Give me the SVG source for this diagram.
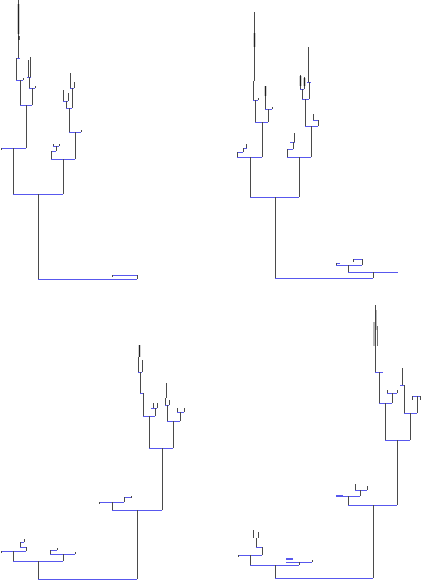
<svg xmlns="http://www.w3.org/2000/svg" width="422" height="581" viewBox="0 0 422 581">
<style>
.h{fill:none;stroke:#5858ee;stroke-width:1}
.v{fill:none;stroke:#4a4a4a;stroke-width:1}
.t{fill:none;stroke:#222;stroke-width:1.4}
.d{fill:none;stroke:#333;stroke-width:0.7}
</style>
<rect width="422" height="581" fill="#fff"/>
<g id="tree1">
<path class="h" d="M38 279.5H137M112 275.5H137M13 194.5H63M1 148.5H26M20 105.5H32M16 80.5H23M29 88.5H35M51 159.5H75M69 132.5H81M66 108.5H72M51 151.5H56M53 146.5H59M17 58.5H20M27 77.5H31M63 101.5H68M70 88.5H74"/>
<path class="v" d="M137.5 275V279M112.5 275V277M38.5 194V279M13.5 148V194M63.5 159V194M26.5 105V148M1.5 148V150M20.5 80V105M32.5 88V105M16.5 58V80M23.5 78V80M18.5 0V58M29.5 77V88M35.5 86V88M28.5 60V77M30.5 57V77M51.5 151V159M56.5 146V151M53.5 144V146M59.5 144V146M75.5 132V159M69.5 108V132M81.5 130V132M66.5 101V108M72.5 88V108M63.5 90V101M68.5 93V101M70.5 73V88M74.5 82V88"/>
<path class="t" d="M18.5 4V34M19 36V40"/>
</g>
<g id="tree2">
<path class="h" d="M275 278.5H373M348 272.5H398M336 265.5H362M353 259.5H362M336 263.5H340M250 197.5H299M237 157.5H262M237 152.5H243M243 148.5H247M255 122.5H268M253 100.5H258M265 109.5H272M287 157.5H311M287 149.5H293M290 142.5H295M305 126.5H318M302 99.5H309M300 89.5H304M307 82.5H311M313 120.5H318"/>
<path class="v" d="M373.5 272V278M348.5 265V272M336.5 263V265M362.5 259V265M353.5 259V262M275.5 197V278M250.5 157V197M299.5 157V197M237.5 152V157M243.5 148V152M246.5 144V148M262.5 122V157M255.5 100V122M268.5 109V122M253.5 81V100M254.5 12V81M258.5 98V100M265.5 86V109M272.5 107V109M287.5 149V157M293.5 142V149M294.5 133V142M311.5 126V157M305.5 99V126M318.5 120V126M313.5 114V120M302.5 89V99M309.5 82V99M300.5 75V89M304.5 77V89M308.5 47V82"/>
<path class="t" d="M254.5 33V47M265.5 86V96M300.5 76V86M304.5 78V86"/>
</g>
<g id="tree3">
<path class="h" d="M38 579.5H137M13 561.5H63M1 551.5H26M20 547.5H26M20 542.5H24M50 554.5H75M50 550.5H57M112 510.5H162M99 502.5H124M124 497.5H131M149 448.5H173M143 416.5H155M140 393.5H143M138 372.5H142M151 408.5H157M167 421.5H180M165 405.5H169M177 412.5H184"/>
<path class="v" d="M38.5 561V579M137.5 510V579M13.5 551V561M63.5 554V561M26.5 547V551M20.5 542V547M24.5 539V542M1.5 551V553M50.5 550V554M57.5 548V550M75.5 552V554M112.5 502V510M162.5 448V510M99.5 502V504M124.5 497V502M131.5 496V498M149.5 416V448M173.5 421V448M143.5 393V416M140.5 372V393M138.5 357V372M142.5 360V372M155.5 408V416M153.5 403V408M157.5 403V408M167.5 405V421M165.5 398V405M166.5 383V398M169.5 400V405M180.5 412V421M177.5 408V412M184.5 408V412"/>
<path class="t" d="M139.5 345V357"/>
</g>
<g id="tree4">
<path class="h" d="M275 578.5H373M250 565.5H299M238 555.5H262M256 547.5H262M286 562.5H312M348 505.5H397M336 496.5H360M355 490.5H367M385 440.5H410M379 403.5H392M375 372.5H383M387 393.5H397M404 413.5H417M400 385.5H405M412 396.5H420"/>
<path class="h" style="stroke-width:2.2" d="M286 559H293M336 496H343"/>
<path class="v" d="M275.5 565V578M373.5 505V578M250.5 555V565M299.5 562V565M262.5 547V555M238.5 555V557M256.5 538V547M253.5 530V538M258.5 532V538M312.5 560V562M348.5 496V505M397.5 440V505M360.5 490V496M355.5 484V490M367.5 486V490M385.5 403V440M410.5 413V440M379.5 372V403M392.5 393V403M375.5 305V372M387.5 390V393M397.5 390V393M404.5 385V413M402.5 368V385M417.5 396V413M412.5 396V400M420.5 396V400"/>
<path class="d" d="M374 322V346M377.5 326V346M376 310V330"/>
</g>
</svg>
